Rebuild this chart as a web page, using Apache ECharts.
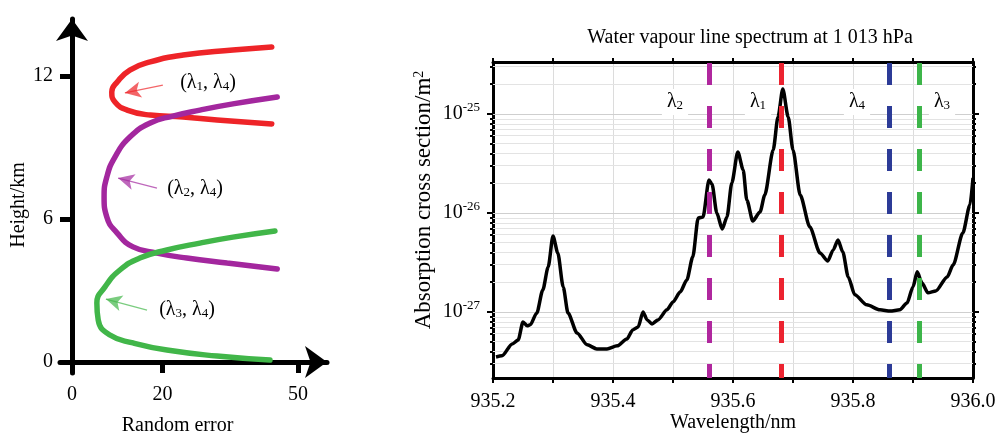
<!DOCTYPE html>
<html>
<head>
<meta charset="utf-8">
<script src="https://cdn.jsdelivr.net/npm/echarts@6/dist/echarts.min.js"></script>
<style>
  html, body { margin: 0; background: #fff; }
  #chart { width: 1002px; height: 435px; }
</style>
</head>
<body>
<div id="chart"></div>
<script>
const serif = '"Liberation Serif", "DejaVu Serif", serif';

// ---- left panel: random error vs height, [random error, height km]
const curve14 = [[44.2, 13.22], [35.6, 13.09], [24.6, 12.88], [17.3, 12.59], [12.8, 12.25], [10.0, 11.75],
  [8.8, 11.33], [9.5, 10.91], [12.2, 10.57], [17.3, 10.36], [24.6, 10.28], [32.1, 10.15], [44.2, 9.99]];
const curve24 = [[45.4, 11.12], [35.6, 10.83], [28.3, 10.57], [22.3, 10.32], [17.3, 10.03], [12.8, 9.44],
  [9.5, 8.60], [7.7, 7.76], [7.1, 6.92], [7.7, 6.08], [10.0, 5.41], [13.5, 4.83], [18.8, 4.57],
  [25.4, 4.36], [34.3, 4.15], [45.4, 3.90]];
const curve34 = [[44.9, 5.50], [35.6, 5.24], [28.3, 4.99], [21.0, 4.70], [15.0, 4.36], [10.6, 3.86],
  [7.3, 3.15], [5.5, 2.48], [5.8, 1.76], [8.4, 1.13], [13.5, 0.80], [21.0, 0.50], [32.1, 0.25], [43.8, 0.08]];
// annotation arrows: tail, head
const arrow14 = [[20.1, 11.62], [11.7, 11.29]];
const arrow24 = [[18.8, 7.30], [10.2, 7.72]];
const arrow34 = [[16.6, 2.18], [7.5, 2.64]];
const xTicksLeft = [0, 20, 50];
const yTicksLeft = [0, 6, 12];

// ---- right panel: water vapour spectrum
const wavelength = [935.205, 935.215, 935.232, 935.242, 935.250, 935.257, 935.262, 935.273, 935.283, 935.292,
  935.300, 935.308, 935.317, 935.325, 935.340, 935.357, 935.373, 935.390, 935.407, 935.423,
  935.433, 935.442, 935.450, 935.457, 935.465, 935.475, 935.490, 935.500, 935.512, 935.523,
  935.533, 935.542, 935.550, 935.560, 935.565, 935.573, 935.582, 935.590, 935.598, 935.608,
  935.617, 935.623, 935.633, 935.645, 935.653, 935.667, 935.675, 935.683, 935.692, 935.700,
  935.712, 935.728, 935.745, 935.758, 935.767, 935.775, 935.783, 935.792, 935.803, 935.823,
  935.845, 935.862, 935.878, 935.890, 935.900, 935.907, 935.915, 935.925, 935.938, 935.957,
  935.967, 935.983, 935.995, 936.000];
const crossSection = [3.51e-28, 3.60e-28, 4.75e-28, 5.21e-28, 7.93e-28, 7.23e-28, 7.40e-28, 9.77e-28, 1.67e-27, 2.85e-27,
  5.86e-27, 3.94e-27, 1.79e-27, 9.77e-28, 6.14e-28, 4.65e-28, 4.23e-28, 4.23e-28, 4.54e-28, 5.33e-28,
  6.58e-28, 7.05e-28, 1.00e-27, 8.30e-28, 7.57e-28, 8.30e-28, 1.05e-27, 1.26e-27, 1.59e-27, 2.10e-27,
  3.60e-27, 8.89e-27, 9.12e-27, 2.15e-26, 1.96e-26, 1.00e-26, 6.89e-27, 9.12e-27, 2.01e-26, 4.13e-26,
  2.72e-26, 1.35e-26, 8.30e-27, 1.02e-26, 1.52e-26, 4.33e-26, 9.33e-26, 1.79e-25, 9.33e-26, 4.33e-26,
  1.52e-26, 7.23e-27, 3.94e-27, 3.27e-27, 4.23e-27, 5.33e-27, 4.04e-27, 2.26e-27, 1.49e-27, 1.18e-27,
  1.05e-27, 1.02e-27, 1.05e-27, 1.23e-27, 1.79e-27, 2.54e-27, 1.96e-27, 1.56e-27, 1.63e-27, 2.26e-27,
  2.99e-27, 6.28e-27, 1.21e-26, 2.26e-26];
const lambdaNames = ['λ2', 'λ1', 'λ4', 'λ3'];
const lambdaWl = [935.558, 935.683, 935.857, 935.907];
const lambdaColors = ['#b0279e', '#ec2330', '#2c3b97', '#3db54a'];
const yTicksRight = [1e-27, 1e-26, 1e-25];
const yMinR = 2.15e-28, yMaxR = 3.35e-25;

// the y axis is drawn in decades: log10 of the cross section on a linear scale
const lg = Math.log10;
const decTicks = yTicksRight.map(lg);

// light log grid lines and minor ticks at 1..9 x 10^n
const logGrid = [];
const minorTicks = [];
for (let n = -28; n <= -25; n++) {
  for (let k = 1; k <= 9; k++) {
    const v = k * Math.pow(10, n);
    if (v > yMinR && v < yMaxR) {
      logGrid.push({ yAxis: lg(v), lineStyle: { color: k === 1 ? '#cfcfcf' : '#e3e3e3' } });
      if (k > 1) minorTicks.push(lg(v));
    }
  }
}

const sub = (t) => t.replace(/λ(\d)/g, 'λ{s|$1}');
const txt = { fontFamily: serif, fontSize: 20, color: '#000' };
const supStyle = { fontFamily: serif, fontSize: 13, lineHeight: 13, verticalAlign: 'top', color: '#000' };
const frame = { onZero: false, lineStyle: { color: '#000', width: 3 } };
const minorAxis = (pos) => ({
  gridIndex: 1, type: 'value', position: pos, min: lg(yMinR), max: lg(yMaxR),
  axisLine: { show: false },
  axisTick: { customValues: minorTicks, length: 3, lineStyle: { color: '#000', width: 2 } },
  axisLabel: { show: false }, splitLine: { show: false }
});

const chart = echarts.init(document.getElementById('chart'));
chart.setOption({
  animation: false,
  grid: [
    { left: 60, top: 19, width: 267, height: 354, containLabel: false, outerBoundsMode: 'none' },
    { left: 493, top: 62, width: 480, height: 316, containLabel: false, outerBoundsMode: 'none' }
  ],
  xAxis: [
    {
      gridIndex: 0, type: 'value', min: -2.655, max: 56.42,
      axisLine: { onZero: true, symbol: ['none', 'arrow'], symbolSize: [24, 22], lineStyle: { color: '#000', width: 5 } },
      axisTick: { customValues: xTicksLeft, length: 11, lineStyle: { color: '#000', width: 5 } },
      axisLabel: { customValues: xTicksLeft, margin: 12, ...txt },
      splitLine: { show: false },
      name: 'Random error', nameLocation: 'middle', nameGap: 43, nameMoveOverlap: false,
      nameTextStyle: { ...txt, padding: [0, 32, 0, 0] }
    },
    {
      gridIndex: 1, type: 'value', min: 935.2, max: 936.0, interval: 0.1,
      axisLine: frame,
      axisTick: { length: 5, lineStyle: { color: '#000', width: 2 } },
      axisLabel: {
        margin: 14, ...txt,
        formatter: (v) => (Math.round((v - 935.2) * 10) % 2 === 0 ? v.toFixed(1) : '')
      },
      splitLine: { show: true, lineStyle: { color: '#dcdcdc', width: 1 } },
      name: 'Wavelength/nm', nameLocation: 'middle', nameGap: 35, nameMoveOverlap: false, nameTextStyle: txt
    },
    {
      gridIndex: 1, type: 'value', position: 'top', min: 935.2, max: 936.0, interval: 0.1,
      axisLine: frame,
      axisTick: { length: 4, lineStyle: { color: '#000', width: 2 } },
      axisLabel: { show: false }, splitLine: { show: false }
    }
  ],
  yAxis: [
    {
      gridIndex: 0, type: 'value', min: -0.4615, max: 14.392,
      axisLine: { onZero: true, symbol: ['none', 'arrow'], symbolSize: [24, 22], lineStyle: { color: '#000', width: 5 } },
      axisTick: { customValues: yTicksLeft, length: 12, lineStyle: { color: '#000', width: 5 } },
      axisLabel: { customValues: yTicksLeft, margin: 7, ...txt },
      splitLine: { show: false },
      name: 'Height/km', nameLocation: 'middle', nameGap: 31, nameMoveOverlap: false,
      nameTextStyle: { ...txt, padding: [0, 18, 0, 0] }
    },
    {
      gridIndex: 1, type: 'value', min: lg(yMinR), max: lg(yMaxR),
      axisLine: frame,
      axisTick: { customValues: decTicks, length: 6, lineStyle: { color: '#000', width: 2 } },
      axisLabel: {
        customValues: decTicks, margin: 13, color: '#000',
        formatter: (v) => '{b|10}{p|' + Math.round(v) + '}',
        rich: { b: { fontFamily: serif, fontSize: 20, lineHeight: 26, color: '#000' }, p: supStyle }
      },
      splitLine: { show: false },
      name: 'Absorption cross section/m{p|2}', nameLocation: 'middle', nameGap: 58, nameMoveOverlap: false,
      nameTextStyle: { ...txt, fontSize: 23, padding: [0, 0, 0, 40], rich: { p: { ...supStyle, fontSize: 14 } } }
    },
    {
      gridIndex: 1, type: 'value', position: 'right', min: lg(yMinR), max: lg(yMaxR),
      axisLine: frame,
      axisTick: { customValues: decTicks, length: 6, lineStyle: { color: '#000', width: 2 } },
      axisLabel: { show: false }, splitLine: { show: false }
    },
    minorAxis('left'),
    minorAxis('right')
  ],
  series: [
    ...[[curve14, arrow14, '#ee2428'], [curve24, arrow24, '#a3279e'], [curve34, arrow34, '#41b649']].map(([c, a, col]) => ({
      type: 'line', xAxisIndex: 0, yAxisIndex: 0, data: c, smooth: 0.5, showSymbol: false, silent: true,
      lineStyle: { color: col, width: 5.5, cap: 'round' },
      markLine: {
        silent: true, symbol: ['none', 'arrow'], symbolSize: [12, 16], label: { show: false },
        lineStyle: { color: col, width: 1.3, type: 'solid', opacity: 0.7 },
        data: [[{ coord: a[0] }, { coord: a[1] }]]
      }
    })),
    {
      // log grid lines, kept under the spectrum
      type: 'line', xAxisIndex: 1, yAxisIndex: 1, data: [], z: 1, silent: true,
      markLine: { z: 1, silent: true, symbol: 'none', label: { show: false }, lineStyle: { width: 1, type: 'solid' }, data: logGrid }
    },
    {
      type: 'line', xAxisIndex: 1, yAxisIndex: 1, z: 3, showSymbol: false, silent: true,
      smooth: 0.25, smoothMonotone: 'x',
      data: wavelength.map((w, i) => [w, lg(crossSection[i])]),
      lineStyle: { color: '#000', width: 3.5, join: 'round' }
    },
    {
      type: 'line', xAxisIndex: 1, yAxisIndex: 1, data: [], z: 4, silent: true,
      markLine: {
        z: 6, silent: true, symbol: 'none', label: { show: false },
        data: lambdaWl.map((w, i) => ({
          xAxis: w,
          lineStyle: { color: lambdaColors[i], width: 5, type: [22, 21], dashOffset: 8, cap: 'butt' }
        }))
      }
    }
  ],
  graphic: [
    { type: 'text', x: 750, y: 38, z: 10, style: { text: 'Water vapour line spectrum at 1 013 hPa', align: 'center', verticalAlign: 'middle', font: '20px ' + serif, fill: '#000' } },
    ...lambdaNames.map((n, i) => ({
      type: 'text', x: [675, 758, 857, 942][i], y: 102, z: 10,
      style: {
        text: sub(n), align: 'center', verticalAlign: 'middle', font: '20px ' + serif, fill: '#000',
        backgroundColor: '#fff', padding: [3, 5],
        rich: { s: { fontFamily: serif, fontSize: 13, verticalAlign: 'bottom', fill: '#000' } }
      }
    })),
    ...[['(λ1, λ4)', 208, 83], ['(λ2, λ4)', 195, 189], ['(λ3, λ4)', 187, 310]].map(([t, x, y]) => ({
      type: 'text', x: x, y: y, z: 10,
      style: {
        text: sub(t), align: 'center', verticalAlign: 'middle', font: '20px ' + serif, fill: '#000',
        rich: { s: { fontFamily: serif, fontSize: 13, verticalAlign: 'bottom', fill: '#000' } }
      }
    }))
  ]
});
</script>
</body>
</html>
